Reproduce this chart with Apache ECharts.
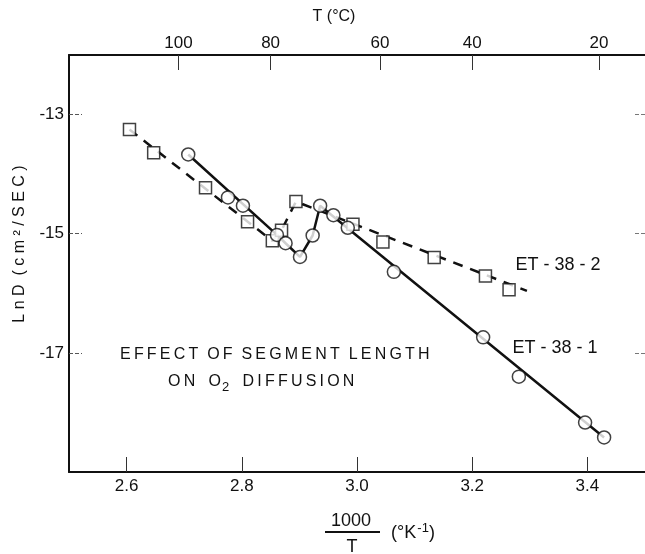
<!DOCTYPE html>
<html>
<head>
<meta charset="utf-8">
<title>LnD vs 1000/T</title>
<script src="https://cdn.jsdelivr.net/npm/echarts@6/dist/echarts.min.js"></script>
<style>
    html, body { margin: 0; padding: 0; background: #fff; }
    #main { width: 645px; height: 554px; }
</style>
</head>
<body>
<div id="main"></div>
<script>
// ET-38-1 : circles (1000/T, LnD)
var et381Points = [
    [2.707, -13.67], [2.776, -14.39], [2.802, -14.53], [2.861, -15.02],
    [2.876, -15.16], [2.901, -15.39], [2.923, -15.03], [2.936, -14.53],
    [2.959, -14.69], [2.984, -14.90], [3.064, -15.64], [3.219, -16.74],
    [3.281, -17.40], [3.396, -18.17], [3.429, -18.42]
];
// solid curve drawn through ET-38-1
var et381Line = [
    [2.707, -13.67], [2.861, -15.02], [2.876, -15.16], [2.901, -15.39],
    [2.923, -15.03], [2.936, -14.53], [3.429, -18.42]
];
// ET-38-2 : squares
var et382Points = [
    [2.605, -13.25], [2.647, -13.64], [2.737, -14.23], [2.810, -14.80],
    [2.853, -15.12], [2.869, -14.94], [2.894, -14.46], [2.993, -14.84],
    [3.045, -15.14], [3.134, -15.40], [3.223, -15.71], [3.264, -15.94]
];
// dashed curve drawn through ET-38-2
var et382Line = [
    [2.605, -13.25], [2.853, -15.12], [2.869, -14.94], [2.894, -14.46],
    [3.295, -15.96]
];

var bottomTicks = [2.6, 2.8, 3.0, 3.2, 3.4];
var leftTicks = [-13, -15, -17];
// T (°C) scale on top, placed where the original marks sit
var topTickPos = [2.69, 2.85, 3.04, 3.20, 3.42];
var topTickLabels = ['100', '80', '60', '40', '20'];

var FONT = '"Liberation Sans", Arial, sans-serif';

function spaced(s, sep) {
    return s.split('').join(sep);
}

function topLabel(v) {
    var best = 0;
    for (var i = 1; i < topTickPos.length; i++) {
        if (Math.abs(topTickPos[i] - v) < Math.abs(topTickPos[best] - v)) best = i;
    }
    return topTickLabels[best];
}

function txt(x, y, text, size, extra) {
    var style = {
        text: text,
        fontFamily: FONT,
        fontSize: size,
        fill: '#111',
        align: 'center',
        verticalAlign: 'middle'
    };
    for (var k in extra) style[k] = extra[k];
    return { type: 'text', x: x, y: y, style: style, z: 10 };
}

var words1 = ['EFFECT', 'OF', 'SEGMENT', 'LENGTH'].map(function(w) { return spaced(w, '\u2009'); });

echarts.init(document.getElementById('main')).setOption({
    animation: false,
    backgroundColor: '#fff',
    grid: {
        left: 69,
        right: -4,
        top: 55,
        bottom: 82
    },
    xAxis: [
        {
            type: 'value',
            position: 'bottom',
            min: 2.5,
            max: 3.5,
            axisLine: { show: true, lineStyle: { color: '#111', width: 2 } },
            axisTick: {
                show: true, inside: true, length: 15, customValues: bottomTicks,
                lineStyle: { color: '#333', width: 1 }
            },
            axisLabel: {
                customValues: bottomTicks,
                margin: 6,
                color: '#111',
                fontFamily: FONT,
                fontSize: 17,
                formatter: function(v) { return v.toFixed(1); }
            },
            splitLine: { show: false }
        },
        {
            type: 'value',
            position: 'top',
            min: 2.5,
            max: 3.5,
            axisLine: { show: true, lineStyle: { color: '#111', width: 2 } },
            axisTick: {
                show: true, inside: true, length: 15, customValues: topTickPos,
                lineStyle: { color: '#333', width: 1 }
            },
            axisLabel: {
                customValues: topTickPos,
                margin: 3,
                color: '#111',
                fontFamily: FONT,
                fontSize: 17,
                formatter: topLabel
            },
            splitLine: { show: false }
        }
    ],
    yAxis: [
        {
            type: 'value',
            position: 'left',
            min: -19,
            max: -12,
            axisLine: { show: true, lineStyle: { color: '#111', width: 2 } },
            axisTick: {
                show: true, inside: true, length: 13, customValues: leftTicks,
                lineStyle: { color: '#555', width: 1, type: 'dashed' }
            },
            axisLabel: {
                customValues: leftTicks,
                margin: 5,
                color: '#111',
                fontFamily: FONT,
                fontSize: 17
            },
            splitLine: { show: false }
        },
        {
            type: 'value',
            position: 'right',
            min: -19,
            max: -12,
            axisLine: { show: false },
            axisTick: {
                show: true, inside: true, length: 12, customValues: leftTicks,
                lineStyle: { color: '#777', width: 1, type: 'dashed' }
            },
            axisLabel: { show: false },
            splitLine: { show: false }
        }
    ],
    series: [
        {
            name: 'ET-38-1 curve',
            type: 'line',
            data: et381Line,
            symbol: 'none',
            lineStyle: { color: '#111', width: 2.5 },
            z: 2
        },
        {
            name: 'ET-38-2 curve',
            type: 'line',
            data: et382Line,
            symbol: 'none',
            lineStyle: { color: '#111', width: 2.5, type: [10, 8] },
            z: 2
        },
        {
            name: 'ET-38-2',
            type: 'scatter',
            data: et382Points,
            symbol: 'rect',
            symbolSize: 12,
            itemStyle: { color: '#fff', borderColor: '#111', borderWidth: 1.5 },
            z: 3
        },
        {
            name: 'ET-38-1',
            type: 'scatter',
            data: et381Points,
            symbol: 'circle',
            symbolSize: 13,
            itemStyle: { color: '#fff', borderColor: '#111', borderWidth: 1.5 },
            z: 4
        }
    ],
    graphic: [
        txt(334, 17, 'T (°C)', 16),
        txt(20, 244, spaced('LnD', ' ') + '  ' + spaced('(cm²/SEC)', ' '), 16, {}),
        txt(558, 265, 'ET - 38 - 2', 18),
        txt(555, 348, 'ET - 38 - 1', 18),
        txt(120, 355, words1.join('  '), 16, { align: 'left' }),
        txt(168, 382, spaced('ON', '\u2009') + '   O{sub|2}   ' + spaced('DIFFUSION', '\u2009'), 16, {
            align: 'left',
            rich: { sub: { fontFamily: FONT, fontSize: 13, padding: [10, 0, 0, 1] } }
        }),
        txt(351, 521, '1000', 18),
        {
            type: 'line',
            shape: { x1: 325, y1: 532, x2: 380, y2: 532 },
            style: { stroke: '#111', lineWidth: 2 },
            z: 10
        },
        txt(352, 547, 'T', 18),
        txt(413, 533, '(°K{sup|-1})', 18, {
            rich: { sup: { fontFamily: FONT, fontSize: 13, padding: [0, 0, 10, 1] } }
        })
    ]
});

// rotate the y-axis title
var chart = echarts.getInstanceByDom(document.getElementById('main'));
var g = chart.getOption().graphic[0].elements;
chart.setOption({
    graphic: [{ id: g[1].id, rotation: Math.PI / 2 }]
});
</script>
</body>
</html>
